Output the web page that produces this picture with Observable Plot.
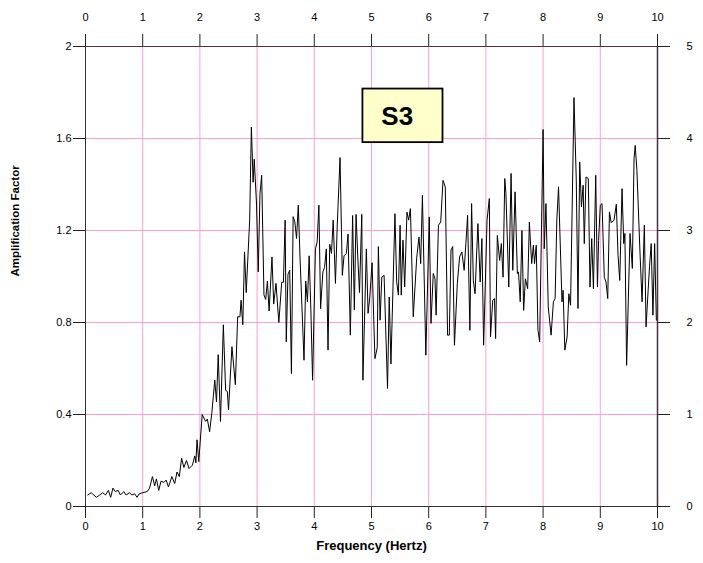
<!DOCTYPE html>
<html><head><meta charset="utf-8">
<script src="https://cdn.jsdelivr.net/npm/d3@7"></script>
<script src="https://cdn.jsdelivr.net/npm/@observablehq/plot@0.6"></script>
<style>
body{margin:0;background:#fff}
#chart svg{display:block}
g[aria-label="box label"] text{font-family:"Liberation Sans",Arial,sans-serif;font-weight:bold;stroke:#000;stroke-width:0.9px}
</style>
</head><body><div id="chart"></div>
<script>
// Frequency (Hz) of each traced vertex
const freq = [
0.04,0.10,0.19,0.25,0.30,0.35,0.40,0.44,0.48,0.52,0.57,0.61,0.67,0.71,0.77,0.81,0.86,0.90,0.94,1.00,
1.08,1.12,1.17,1.21,1.24,1.28,1.32,1.37,1.41,1.45,1.51,1.56,1.60,1.64,1.68,1.72,1.765,1.81,1.87,1.91,
1.93,1.95,1.98,2.04,2.10,2.13,2.17,2.21,2.26,2.29,2.32,2.36,2.41,2.45,2.48,2.50,2.56,2.62,2.66,2.70,
2.72,2.75,2.78,2.81,2.87,2.90,2.93,2.95,2.99,3.02,3.05,3.08,3.12,3.15,3.18,3.21,3.26,3.29,3.33,3.38,
3.43,3.46,3.49,3.51,3.54,3.57,3.60,3.63,3.66,3.69,3.72,3.75,3.82,3.85,3.88,3.91,3.94,3.97,4.02,4.05,
4.08,4.11,4.15,4.18,4.21,4.24,4.27,4.30,4.33,4.37,4.40,4.45,4.49,4.52,4.56,4.59,4.63,4.67,4.70,4.73,
4.76,4.79,4.83,4.85,4.91,4.94,4.97,5.01,5.06,5.10,5.12,5.15,5.18,5.22,5.28,5.31,5.34,5.41,5.44,5.47,
5.50,5.52,5.55,5.58,5.62,5.65,5.68,5.73,5.79,5.83,5.86,5.89,5.95,6.01,6.04,6.08,6.11,6.13,6.17,6.21,
6.25,6.29,6.33,6.36,6.39,6.42,6.45,6.50,6.54,6.58,6.62,6.65,6.68,6.72,6.75,6.78,6.81,6.86,6.90,6.93,
6.96,7.02,7.06,7.08,7.12,7.15,7.17,7.20,7.24,7.27,7.30,7.33,7.35,7.40,7.44,7.47,7.51,7.55,7.57,7.60,
7.63,7.66,7.69,7.73,7.76,7.80,7.83,7.85,7.88,7.91,7.94,8.00,8.02,8.05,8.09,8.14,8.18,8.21,8.24,8.27,
8.33,8.35,8.38,8.42,8.45,8.48,8.54,8.58,8.61,8.64,8.67,8.70,8.72,8.75,8.79,8.82,8.85,8.88,8.92,8.95,
8.97,9.00,9.03,9.07,9.10,9.13,9.16,9.19,9.24,9.28,9.31,9.34,9.38,9.41,9.43,9.46,9.52,9.56,9.59,9.61,
9.64,9.69,9.73,9.77,9.80,9.86,9.89,9.92,9.95,9.98
];
// Amplification factor at each vertex
const amp = [
0.05,0.06,0.04,0.05,0.06,0.05,0.07,0.04,0.08,0.065,0.07,0.05,0.065,0.05,0.06,0.05,0.055,0.04,0.055,0.06,
0.065,0.08,0.13,0.09,0.12,0.07,0.11,0.105,0.115,0.085,0.13,0.10,0.15,0.13,0.21,0.17,0.20,0.165,0.18,0.22,
0.19,0.29,0.195,0.40,0.37,0.38,0.325,0.41,0.55,0.455,0.66,0.37,0.79,0.505,0.50,0.42,0.695,0.53,0.825,0.825,
0.897,0.79,1.107,0.93,1.245,1.65,1.41,1.51,1.315,1.02,1.36,1.44,0.92,0.90,0.98,0.85,1.085,0.88,0.97,0.80,
0.975,0.975,1.245,0.716,1.01,1.027,0.578,1.26,1.237,1.165,1.31,1.085,0.636,0.98,0.89,1.09,0.855,0.549,1.12,1.15,
1.31,0.86,1.02,1.04,1.12,0.68,1.14,1.10,1.245,0.97,1.215,1.517,1.005,1.09,1.10,1.185,0.745,1.265,0.855,1.27,
1.085,0.93,1.27,0.549,1.12,0.84,0.91,1.06,0.643,0.69,1.13,0.81,0.998,1.005,0.513,0.911,0.62,1.273,0.977,0.919,
1.223,0.919,1.158,0.955,1.28,1.245,1.295,0.825,1.08,1.172,1.056,1.353,0.658,1.259,0.796,1.013,0.99,0.832,1.223,1.237,
1.418,1.389,0.745,0.745,1.115,1.13,0.701,0.969,1.085,1.107,1.027,1.143,1.266,0.766,1.317,0.983,0.925,1.23,0.976,1.165,
0.701,1.245,1.339,0.737,0.897,0.904,0.73,1.179,1.07,1.143,0.997,1.426,1.361,0.954,1.448,1.027,1.368,1.013,1.02,0.89,
1.2,0.853,0.99,0.947,1.237,1.056,1.136,1.056,1.136,0.767,0.716,1.639,1.121,1.317,0.868,0.745,0.89,0.904,1.245,1.39,
0.89,0.94,0.68,0.737,0.925,0.875,1.778,1.419,0.861,1.498,1.303,1.397,1.143,1.433,1.426,0.954,1.165,0.947,1.44,0.954,
1.157,1.31,1.317,0.997,0.976,0.904,1.281,1.234,1.245,1.314,1.092,0.983,1.382,1.143,1.187,0.614,1.187,1.035,1.513,1.57,
1.462,1.128,0.89,1.224,0.781,1.042,1.143,0.832,1.143,0.81
];
const xTicks = [0,1,2,3,4,5,6,7,8,9,10];
const yTicks = [0,0.4,0.8,1.2,1.6,2];
const yLabelsLeft = ["0","0.4","0.8","1.2","1.6","2"];
const yLabelsRight = ["0","1","2","3","4","5"];
const xTitle = "Frequency (Hertz)";
const yTitle = "Amplification Factor";
// Annotation box (data coordinates) and its label
const boxX = [4.85, 6.25];
const boxY = [1.582, 1.815];
const boxLabel = "S3";
const boxLabelPos = [5.45, 1.697];

const data = freq.map((f, i) => ({f, a: amp[i]}));
const grid = "#ff9fd0";

const chart = Plot.plot({
  width: 703, height: 563,
  marginLeft: 85, marginRight: 46, marginTop: 46, marginBottom: 57,
  x: {domain: [0, 10]},
  y: {domain: [0, 2]},
  style: {fontFamily: "'Liberation Sans', Arial, sans-serif", fontSize: "11px", background: "#fff", color: "#000"},
  marks: [
    Plot.gridX(xTicks.slice(1, -1), {stroke: grid, strokeOpacity: 1}),
    Plot.gridY(yTicks.slice(1, -1), {stroke: grid, strokeOpacity: 1}),
    Plot.axisX({anchor: "bottom", ticks: xTicks, tickSize: 12, tickPadding: 4, label: null, stroke: "#222"}),
    Plot.axisX({anchor: "top", ticks: xTicks, tickSize: 13, tickPadding: 13, label: null, stroke: "#222"}),
    Plot.axisY({anchor: "left", ticks: yTicks, tickSize: 12, tickPadding: 2, label: null, stroke: "#222",
      tickFormat: d => yLabelsLeft[yTicks.indexOf(d)]}),
    Plot.axisY({anchor: "right", ticks: yTicks, tickSize: 12, tickPadding: 17, label: null, stroke: "#222",
      tickFormat: d => yLabelsRight[yTicks.indexOf(d)]}),
    Plot.ruleX([0], {stroke: "#333", y1: 0, y2: 2}),
    Plot.ruleX([10], {stroke: "#4a2c3c", strokeWidth: 1.5, y1: 0, y2: 2}),
    Plot.ruleY([2], {stroke: "#5a3040", strokeWidth: 1.2}),
    Plot.ruleY([0], {stroke: "#333"}),
    Plot.line(data, {x: "f", y: "a", stroke: "#000", strokeWidth: 1}),
    Plot.rect([{x1: boxX[0], x2: boxX[1], y1: boxY[0], y2: boxY[1]}],
      {x1: "x1", x2: "x2", y1: "y1", y2: "y2", fill: "#ffffcc", stroke: "#000", strokeWidth: 1.8}),
    Plot.text([boxLabel], {x: boxLabelPos[0], y: boxLabelPos[1], text: d => d, ariaLabel: "box label",
      fontSize: 26, fontWeight: "bold", fill: "#000"}),
    Plot.text([xTitle], {frameAnchor: "bottom", dy: 43, text: d => d, fontWeight: "bold", fontSize: 13, fill: "#000"}),
    Plot.text([yTitle], {frameAnchor: "left", dx: -70, rotate: -90, text: d => d, fontWeight: "bold", fontSize: 11.5, fill: "#000"})
  ]
});
// condense the box label glyphs (narrow heavy face as in the original)
d3.select(chart).selectAll('g[aria-label="box label"] text')
  .attr("textLength", 26).attr("lengthAdjust", "spacingAndGlyphs");
document.getElementById("chart").append(chart);
</script>
</body></html>
